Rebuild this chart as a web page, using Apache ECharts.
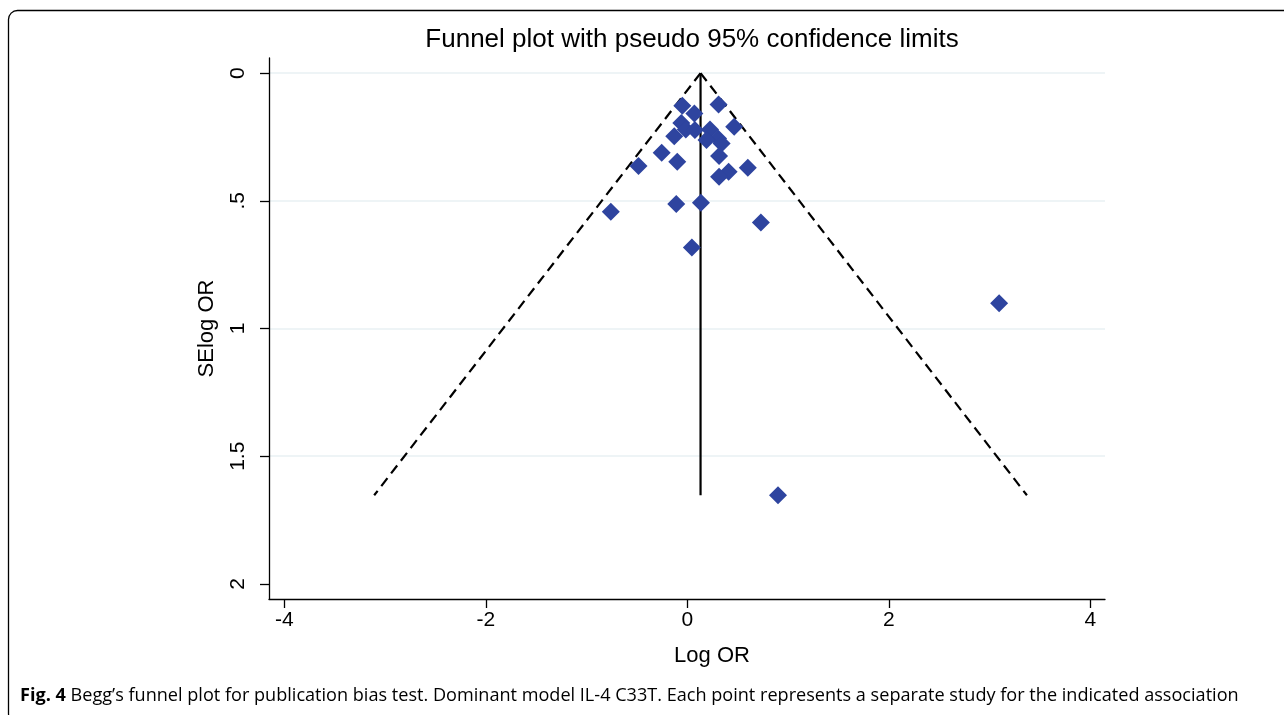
<!DOCTYPE html>
<html>
<head>
<meta charset="utf-8">
<script src="https://cdn.jsdelivr.net/npm/echarts@6/dist/echarts.min.js"></script>
<style>
html,body{margin:0;padding:0;background:#fff;}
#chart{width:1284px;height:715px;}
</style>
</head>
<body>
<div id="chart"></div>
<script>
// Study-level estimates
const logOR = [-0.05, 0.31, 0.07, -0.06, -0.015, 0.075, 0.465, 0.225, -0.13, 0.305, 0.19, 0.34, -0.255, 0.315, -0.10, -0.485, 0.60, 0.41, 0.315, -0.11, 0.135, -0.76, 0.73, 0.045, 3.095, 0.90];
const seLogOR = [0.128, 0.123, 0.158, 0.195, 0.221, 0.223, 0.21, 0.221, 0.247, 0.256, 0.262, 0.276, 0.312, 0.325, 0.347, 0.364, 0.371, 0.386, 0.406, 0.513, 0.508, 0.543, 0.585, 0.683, 0.901, 1.653];
// Pooled estimate line and pseudo 95% limits
const pooledLine = [[0.131, 0], [0.131, 1.653]];
const lowerLimit = [[0.131, 0], [-3.109, 1.653]];
const upperLimit = [[0.131, 0], [3.371, 1.653]];
// Tick labels
const xTicks = [-4, -2, 0, 2, 4];
const yTicks = [0, 0.5, 1, 1.5, 2];
const yTickLabels = {0: '0', 0.5: '.5', 1: '1', 1.5: '1.5', 2: '2'};

const points = logOR.map((x, i) => [x, seLogOR[i]]);
const chart = echarts.init(document.getElementById('chart'), null, {renderer: 'canvas'});
const axisFont = 'Liberation Sans';
chart.setOption({
  backgroundColor: '#ffffff',
  animation: false,
  title: {
    text: 'Funnel plot with pseudo 95% confidence limits',
    left: 687, top: 22, textAlign: 'center',
    textStyle: {fontFamily: axisFont, fontSize: 26, fontWeight: 'normal', color: '#000'}
  },
  grid: {left: 269, right: 179, top: 58, bottom: 116, containLabel: false},
  xAxis: {
    type: 'value', min: -4.153, max: 4.146,
    name: 'Log OR', nameLocation: 'middle', nameGap: 46,
    nameTextStyle: {fontFamily: axisFont, fontSize: 22, color: '#000', padding: [0, 0, 0, 50]},
    axisLine: {show: true, onZero: false, lineStyle: {color: '#000', width: 1.3}},
    axisTick: {show: true, customValues: xTicks, length: 9, lineStyle: {color: '#000', width: 1.3}},
    axisLabel: {customValues: xTicks, margin: 11, fontFamily: axisFont, fontSize: 21, color: '#000',
      formatter: v => String(v)},
    splitLine: {show: false}
  },
  yAxis: {
    type: 'value', min: -0.059, max: 2.059, inverse: true,
    name: 'SElog OR', nameLocation: 'middle', nameGap: 51,
    nameTextStyle: {fontFamily: axisFont, fontSize: 22, color: '#000'},
    axisLine: {show: true, onZero: false, lineStyle: {color: '#000', width: 1.3}},
    axisTick: {show: true, customValues: yTicks, length: 9, lineStyle: {color: '#000', width: 1.3}},
    axisLabel: {customValues: yTicks, rotate: 90, margin: 20, fontFamily: axisFont, fontSize: 21, color: '#000',
      formatter: v => yTickLabels[v] !== undefined ? yTickLabels[v] : String(v)},
    splitLine: {show: true, lineStyle: {color: ['#E8F1F3', '#E8F1F3', '#E8F1F3', '#E8F1F3', 'rgba(0,0,0,0)'], width: 1.5}}
  },
  series: [
    {type: 'line', data: lowerLimit, symbol: 'none', silent: true,
      lineStyle: {color: '#000', width: 2.2, type: [10, 6]}, z: 2},
    {type: 'line', data: upperLimit, symbol: 'none', silent: true,
      lineStyle: {color: '#000', width: 2.2, type: [10, 6]}, z: 2},
    {type: 'line', data: pooledLine, symbol: 'none', silent: true,
      lineStyle: {color: '#000', width: 2.2}, z: 2},
    {type: 'scatter', data: points, symbol: 'diamond', symbolSize: 18,
      itemStyle: {color: '#2E449F', opacity: 1}, z: 3}
  ],
  graphic: [
    {type: 'rect', shape: {x: 8.5, y: 10.5, width: 1300, height: 712, r: 9},
      style: {fill: 'none', stroke: '#000', lineWidth: 1.3}, z: 0, silent: true},
    {type: 'text', left: 20, top: 687,
      style: {
        text: '{b|Fig. 4} Begg\u2019s funnel plot for publication bias test. Dominant model IL-4 C33T. Each point represents a separate study for the indicated association',
        rich: {b: {fontFamily: 'Open Sans', fontWeight: 'bold', fontSize: 18.1, fill: '#000'}},
        fontFamily: 'Open Sans', fontSize: 18.1, fill: '#000'
      }}
  ]
});
</script>
</body>
</html>
